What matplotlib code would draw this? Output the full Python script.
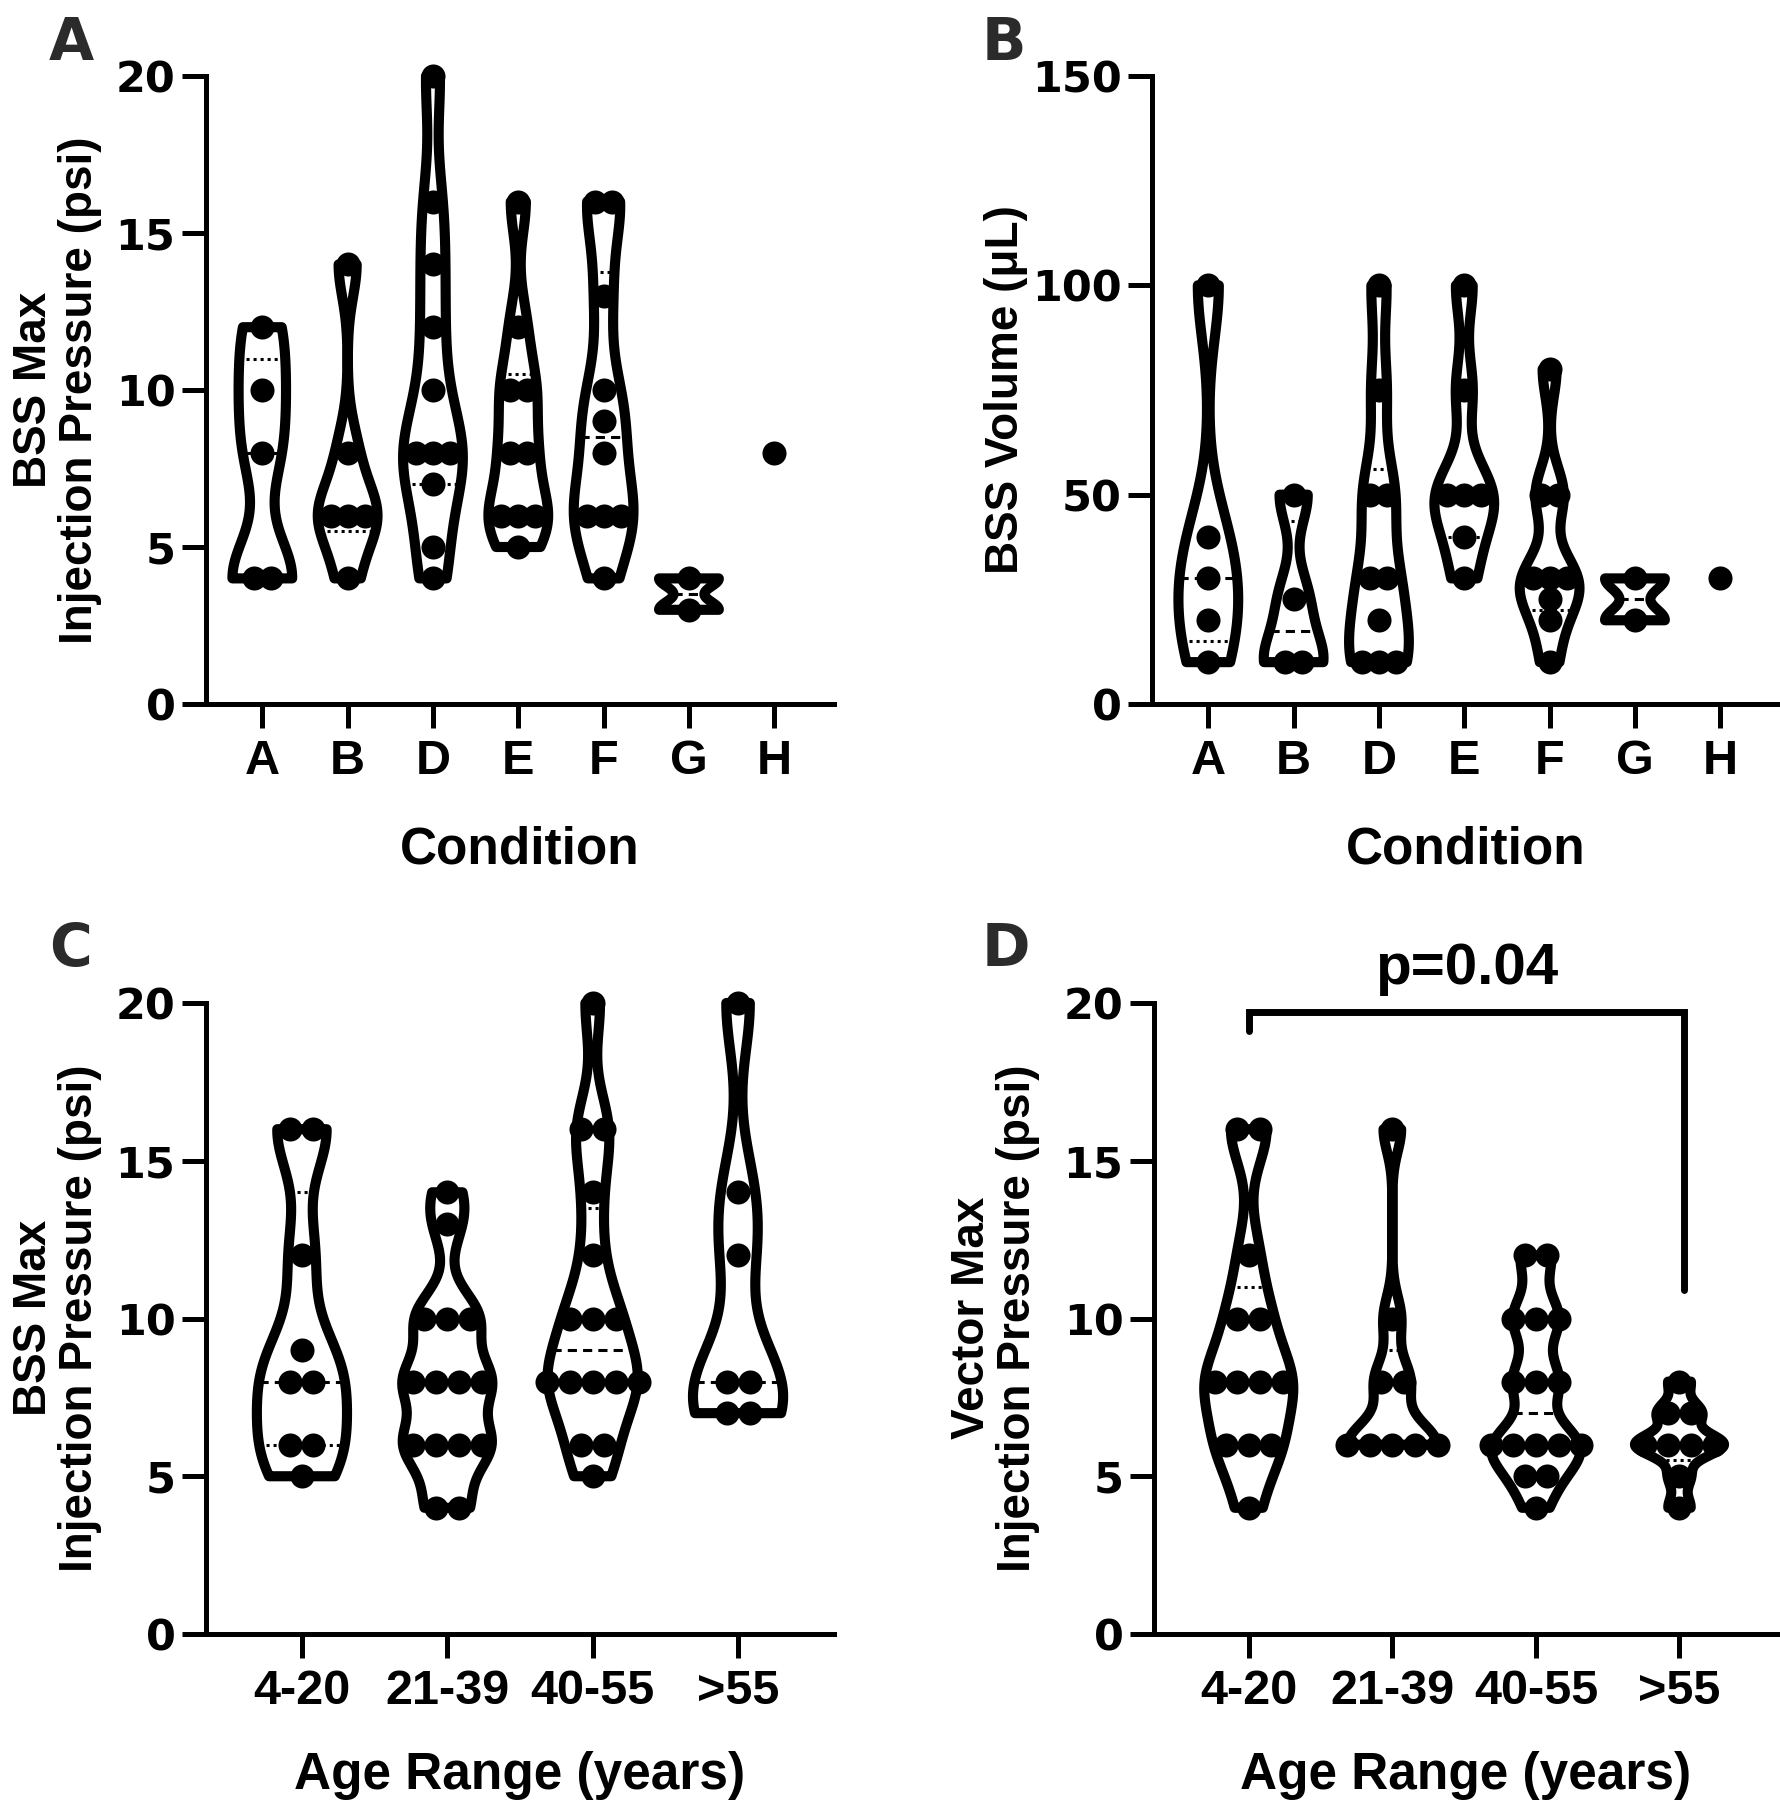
import numpy as np
import matplotlib
matplotlib.use("Agg")
import matplotlib.pyplot as plt

# ---------------- data ----------------
conditions = ["A", "B", "D", "E", "F", "G", "H"]
age_ranges = ["4-20", "21-39", "40-55", ">55"]

# Panel A: BSS max injection pressure (psi) by condition
psi_cond_A = [4, 4, 8, 10, 12]
psi_cond_B = [4, 6, 6, 6, 8, 14]
psi_cond_D = [4, 5, 7, 8, 8, 8, 10, 12, 14, 16, 20]
psi_cond_E = [5, 6, 6, 6, 8, 8, 10, 10, 12, 16]
psi_cond_F = [4, 6, 6, 6, 8, 9, 10, 13, 16, 16]
psi_cond_G = [3, 4]
psi_cond_H = [8]

# Panel B: BSS volume (uL) by condition
vol_cond_A = [10, 20, 30, 40, 100]
vol_cond_B = [10, 10, 25, 50]
vol_cond_D = [10, 10, 10, 20, 30, 30, 50, 50, 75, 100]
vol_cond_E = [30, 40, 50, 50, 50, 75, 100]
vol_cond_F = [10, 20, 25, 30, 30, 30, 50, 50, 80]
vol_cond_G = [20, 30]
vol_cond_H = [30]

# Panel C: BSS max injection pressure (psi) by age range
bss_age_4_20 = [5, 6, 6, 8, 8, 9, 12, 16, 16]
bss_age_21_39 = [4, 4, 6, 6, 6, 6, 8, 8, 8, 8, 10, 10, 10, 13, 14]
bss_age_40_55 = [5, 6, 6, 8, 8, 8, 8, 8, 10, 10, 10, 12, 14, 16, 16, 20]
bss_age_55p = [7, 7, 8, 8, 12, 14, 20]

# Panel D: vector max injection pressure (psi) by age range
vec_age_4_20 = [4, 6, 6, 6, 8, 8, 8, 8, 10, 10, 12, 16, 16]
vec_age_21_39 = [6, 6, 6, 6, 6, 8, 8, 10, 16]
vec_age_40_55 = [4, 5, 5, 6, 6, 6, 6, 6, 8, 8, 8, 10, 10, 10, 12, 12]
vec_age_55p = [4, 5, 6, 6, 6, 6, 7, 7, 8]

p_value_label = "p=0.04"

# ---------------- style ----------------
SANS = ["Liberation Sans", "DejaVu Sans"]
HEAVY = ["DejaVu Sans"]
VIOLIN_LW = 7.3
DOT_S = 300
SPINE_W = 3.6


def draw_violin(ax, xc, vals, half_w, step):
    v = np.sort(np.asarray(vals, dtype=float))
    n = len(v)
    if n > 1 and v.min() < v.max():
        sd = v.std(ddof=1)
        q1, q3 = np.percentile(v, [25, 75], method="weibull")
        iqr = (q3 - q1) / 1.34
        s = min(sd, iqr) if iqr > 0 else sd
        h = 0.55 * 0.9 * s * n ** -0.2
        ys = np.linspace(v.min(), v.max(), 400)
        dens = np.exp(-0.5 * ((ys[:, None] - v[None, :]) / h) ** 2).sum(axis=1)
        w = dens / dens.max() * half_w
        xs = np.concatenate([xc + w, (xc - w)[::-1]])
        yy = np.concatenate([ys, ys[::-1]])
        ax.fill(xs, yy, facecolor="white", edgecolor="black", lw=VIOLIN_LW,
                joinstyle="round", zorder=2, clip_on=False)
        med = np.percentile(v, 50, method="weibull")
        for q, ls in [(med, (0, (3, 2))), (q1, (0, (1, 1.3))), (q3, (0, (1, 1.3)))]:
            wq = np.interp(q, ys, w)
            ax.plot([xc - wq, xc + wq], [q, q], color="black", lw=2.2, ls=ls,
                    zorder=3, solid_capstyle="butt", dash_capstyle="butt")
    uniq, counts = np.unique(v, return_counts=True)
    px, py = [], []
    for u, k in zip(uniq, counts):
        offs = (np.arange(k) - (k - 1) / 2.0) * step
        px.extend(list(xc + offs))
        py.extend([u] * k)
    ax.scatter(px, py, s=DOT_S, color="black", zorder=4, clip_on=False, linewidths=0)


def style_axis(ax, xlabels, yticks, ylim, xlim, xfs):
    for sp in ["top", "right"]:
        ax.spines[sp].set_visible(False)
    for sp in ["left", "bottom"]:
        ax.spines[sp].set_linewidth(SPINE_W)
    ax.set_xlim(*xlim)
    ax.set_ylim(*ylim)
    ax.set_xticks(range(len(xlabels)))
    ax.set_xticklabels(xlabels, fontfamily=SANS, fontweight="bold", fontsize=xfs)
    ax.set_yticks(yticks)
    ax.set_yticklabels([str(t) for t in yticks], fontfamily=HEAVY,
                       fontweight="bold", fontsize=31)
    ax.tick_params(axis="both", direction="out", length=17, width=SPINE_W)
    ax.tick_params(axis="x", pad=8)
    ax.tick_params(axis="y", pad=5)
    ax.patch.set_alpha(0)


fig = plt.figure(figsize=(17.81, 18.0), dpi=100)
fig.patch.set_facecolor("white")

W, H = 1781.0, 1800.0


def rect(x0, y_top, x1, y_bot):
    return [x0 / W, 1 - y_bot / H, (x1 - x0) / W, (y_bot - y_top) / H]


axA = fig.add_axes(rect(206, 76, 834, 704))
axB = fig.add_axes(rect(1152, 76, 1780, 704))
axC = fig.add_axes(rect(206, 1003, 834, 1634))
axD = fig.add_axes(rect(1154, 1003, 1780, 1634))

groups_A = [psi_cond_A, psi_cond_B, psi_cond_D, psi_cond_E, psi_cond_F, psi_cond_G, psi_cond_H]
groups_B = [vol_cond_A, vol_cond_B, vol_cond_D, vol_cond_E, vol_cond_F, vol_cond_G, vol_cond_H]
groups_C = [bss_age_4_20, bss_age_21_39, bss_age_40_55, bss_age_55p]
groups_D = [vec_age_4_20, vec_age_21_39, vec_age_40_55, vec_age_55p]

for i, g in enumerate(groups_A):
    draw_violin(axA, i, g, 0.35, 0.2)
for i, g in enumerate(groups_B):
    draw_violin(axB, i, g, 0.35, 0.2)
for i, g in enumerate(groups_C):
    draw_violin(axC, i, g, 0.31, 0.158)
for i, g in enumerate(groups_D):
    draw_violin(axD, i, g, 0.31, 0.158)

style_axis(axA, conditions, [0, 5, 10, 15, 20], (0, 20), (-0.66, 6.70), 35)
style_axis(axB, conditions, [0, 50, 100, 150], (0, 150), (-0.66, 6.70), 35)
style_axis(axC, age_ranges, [0, 5, 10, 15, 20], (0, 20), (-0.66, 3.66), 35)
style_axis(axD, age_ranges, [0, 5, 10, 15, 20], (0, 20), (-0.66, 3.70), 35)

# significance bracket in D
axD.plot([0, 0, 3.03, 3.03], [19.1, 19.7, 19.7, 10.9], color="black", lw=5,
         clip_on=False, solid_capstyle="round", solid_joinstyle="miter", zorder=5)
axD.text(1.52, 20.6, p_value_label, ha="center", va="baseline", fontsize=42,
         fontweight="bold", fontfamily=SANS, clip_on=False)

# axis labels
LBL = dict(fontfamily=SANS, fontweight="bold")
fig.text(57 / W, 1 - 390 / H, "BSS Max\nInjection Pressure (psi)", rotation=90,
         ha="center", va="center", fontsize=33, linespacing=1.08, multialignment="center", **LBL)
fig.text(1006 / W, 1 - 390 / H, "BSS Volume (\u03bcL)", rotation=90,
         ha="center", va="center", fontsize=33, **LBL)
fig.text(57 / W, 1 - 1318 / H, "BSS Max\nInjection Pressure (psi)", rotation=90,
         ha="center", va="center", fontsize=33, linespacing=1.08, multialignment="center", **LBL)
fig.text(995 / W, 1 - 1318 / H, "Vector Max\nInjection Pressure (psi)", rotation=90,
         ha="center", va="center", fontsize=33, linespacing=1.08, multialignment="center", **LBL)

fig.text(520 / W, 1 - 863 / H, "Condition", ha="center", va="baseline", fontsize=37, **LBL)
fig.text(1466 / W, 1 - 863 / H, "Condition", ha="center", va="baseline", fontsize=37, **LBL)
fig.text(520 / W, 1 - 1789 / H, "Age Range (years)", ha="center", va="baseline", fontsize=37, **LBL)
fig.text(1466 / W, 1 - 1789 / H, "Age Range (years)", ha="center", va="baseline", fontsize=37, **LBL)

# panel letters
PL = dict(fontfamily=HEAVY, fontweight="bold", fontsize=42, color="#2b2b2b",
          ha="center", va="center")
fig.text(71 / W, 1 - 44 / H, "A", **PL)
fig.text(1004 / W, 1 - 44 / H, "B", **PL)
fig.text(71 / W, 1 - 949 / H, "C", **PL)
fig.text(1006 / W, 1 - 949 / H, "D", **PL)

fig.savefig("out.png", dpi=100, facecolor="white")
